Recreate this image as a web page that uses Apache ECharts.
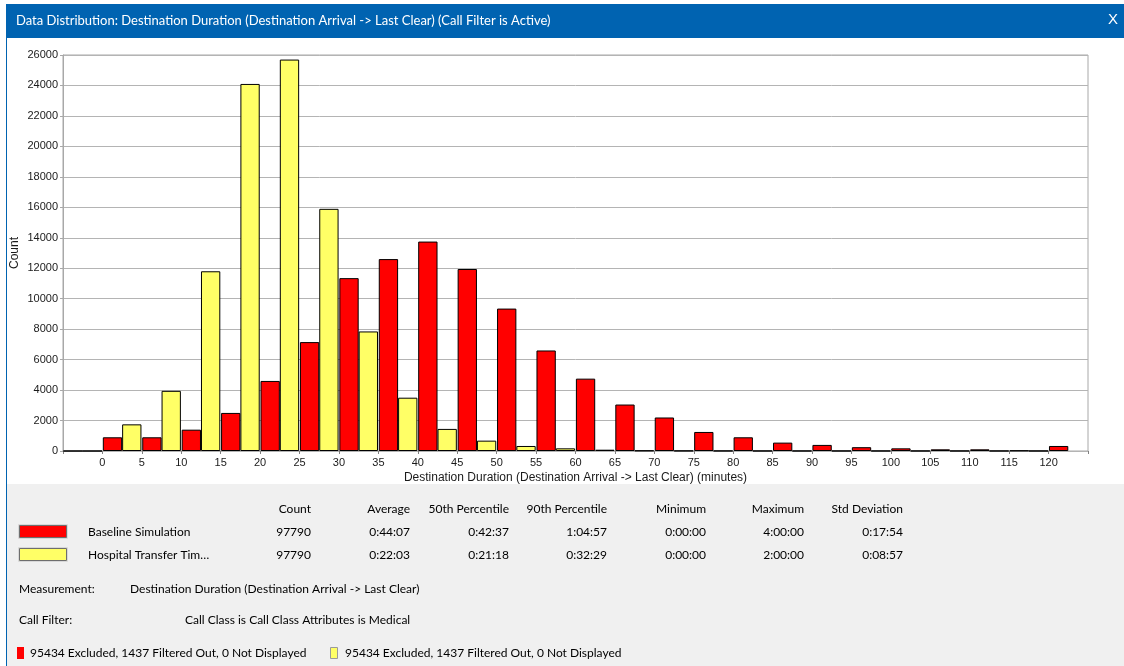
<!DOCTYPE html>
<html>
<head>
<meta charset="utf-8">
<script src="https://cdn.jsdelivr.net/npm/echarts@6/dist/echarts.min.js"></script>
<style>
html,body{margin:0;padding:0;background:#fff;}
#main{width:1124px;height:666px;}
</style>
</head>
<body>
<div id="main"></div>
<script>
// ---- data ----
const binStarts = [-5,0,5,10,15,20,25,30,35,40,45,50,55,60,65,70,75,80,85,90,95,100,105,110,115,120];
const baselineCounts = [0,900,900,1400,2500,4600,7150,11350,12600,13750,11950,9350,6600,4750,3050,2200,1250,900,550,400,250,175,110,110,30,330];
const hospitalCounts = [0,1750,3950,11800,24100,25700,15900,7850,3500,1450,680,330,175,85,30,15,10,5,5,5,5,5,5,5,5,null];
const seriesNames = ['Baseline Simulation','Hospital Transfer Tim\u2026'];
const statHeaders = ['Count','Average','50th Percentile','90th Percentile','Minimum','Maximum','Std Deviation'];
const baselineStats = ['97790','0:44:07','0:42:37','1:04:57','0:00:00','4:00:00','0:17:54'];
const hospitalStats = ['97790','0:22:03','0:21:18','0:32:29','0:00:00','2:00:00','0:08:57'];
const titleText = 'Data Distribution: Destination Duration (Destination Arrival -> Last Clear) (Call Filter is Active)';
const xAxisTitle = 'Destination Duration (Destination Arrival -> Last Clear) (minutes)';
const yAxisTitle = 'Count';
const measurementText = 'Destination Duration (Destination Arrival -> Last Clear)';
const callFilterText = 'Call Class is Call Class Attributes is Medical';
const footerText = '95434 Excluded, 1437 Filtered Out, 0 Not Displayed';

const RED = '#ff0000', YELLOW = '#ffff66';
const UI_FONT = 'Lato, "Liberation Sans", sans-serif';
const AX_FONT = '"Liberation Sans", Arial, sans-serif';
const colRights = [311,410,509,607,706,804,903];

function txt(x, y, s, opt) {
  opt = opt || {};
  return {type:'text', x:x, y:y, z:10, silent:true, style:{
    text:s, fill:opt.fill||'#000', font:(opt.size||12)+'px '+(opt.family||UI_FONT),
    textAlign:opt.align||'left', textVerticalAlign:'middle'}};
}

const graphics = [
  {type:'rect', shape:{x:6,y:4,width:1118,height:34}, style:{fill:'#0063b1'}, z:1},
  {type:'rect', shape:{x:6,y:4,width:1,height:662}, style:{fill:'#0063b1'}, z:1},
  {type:'rect', shape:{x:7,y:484,width:1117,height:182}, style:{fill:'#f0f0f0'}, z:0},
  txt(16, 21, titleText, {fill:'#ffffff', size:13}),
  txt(1113, 20, 'X', {fill:'#ffffff', size:15, align:'center', family:AX_FONT}),
];
statHeaders.forEach((h,i)=>graphics.push(txt(colRights[i], 509, h, {align:'right'})));
[[baselineStats, RED, 532, seriesNames[0]],[hospitalStats, YELLOW, 555, seriesNames[1]]].forEach(r=>{
  graphics.push({type:'rect', shape:{x:18.5,y:r[2]-7.5,width:49,height:14}, style:{fill:'none', stroke:'#d8d8d8', lineWidth:1}, z:5});
  graphics.push({type:'rect', shape:{x:19.5,y:r[2]-6.5,width:47,height:12}, style:{fill:r[1], stroke:'#6e6e6e', lineWidth:1}, z:6});
  graphics.push(txt(88, r[2], r[3]));
  r[0].forEach((v,i)=>graphics.push(txt(colRights[i], r[2], v, {align:'right'})));
});
graphics.push(txt(19, 589, 'Measurement:'));
graphics.push(txt(130, 589, measurementText));
graphics.push(txt(19, 620, 'Call Filter:'));
graphics.push(txt(185, 620, callFilterText));
graphics.push({type:'rect', shape:{x:17,y:647,width:7,height:12}, style:{fill:RED}, z:5});
graphics.push(txt(30, 653, footerText));
graphics.push({type:'rect', shape:{x:330.5,y:647.5,width:7,height:11}, style:{fill:YELLOW, stroke:'#9a9a9a', lineWidth:1}, z:5});
graphics.push(txt(345, 653, footerText));

const chart = echarts.init(document.getElementById('main'), null, {renderer:'canvas'});
chart.setOption({
  backgroundColor:'#ffffff',
  animation:false,
  grid:{left:63, right:36, top:55, bottom:215, containLabel:false, outerBoundsMode:'none',
        show:true, borderColor:'#a8a8a8', borderWidth:1, backgroundColor:'#ffffff'},
  xAxis:[
    {type:'category', data:binStarts, boundaryGap:true, show:false},
    {type:'value', min:-5, max:125, interval:5, position:'bottom',
     axisLine:{show:false, onZero:false}, splitLine:{show:false},
     axisTick:{show:true, length:3, lineStyle:{color:'#808080'}},
     axisLabel:{fontSize:11, fontFamily:AX_FONT, color:'#1a1a1a', margin:6,
       formatter:v=> (v<0 || v>120) ? '' : String(v)},
     name:xAxisTitle, nameLocation:'middle', nameGap:21, nameMoveOverlap:false,
     nameTextStyle:{fontSize:12, fontFamily:AX_FONT, color:'#1a1a1a'}}
  ],
  yAxis:{type:'value', min:0, max:26000, interval:2000,
    axisLine:{show:true, onZero:false, lineStyle:{color:'#a8a8a8'}},
    axisTick:{show:true, length:3, lineStyle:{color:'#a8a8a8'}},
    axisLabel:{fontSize:11, fontFamily:AX_FONT, color:'#1a1a1a', margin:5, formatter:v=>String(v)},
    splitLine:{show:true, lineStyle:{color:'#b4b4b4', width:1}},
    name:yAxisTitle, nameLocation:'middle', nameGap:42, nameRotate:90, nameMoveOverlap:false,
    nameTextStyle:{fontSize:12, fontFamily:AX_FONT, color:'#1a1a1a'}},
  series:[
    {name:seriesNames[0], type:'bar', xAxisIndex:0, data:baselineCounts, barGap:'0%', barCategoryGap:'2%',
     itemStyle:{color:RED, borderColor:'#000', borderWidth:1}},
    {name:seriesNames[1], type:'bar', xAxisIndex:0, data:hospitalCounts, barGap:'0%', barCategoryGap:'2%',
     itemStyle:{color:YELLOW, borderColor:'#000', borderWidth:1}}
  ],
  graphic:graphics
});
</script>
</body>
</html>
